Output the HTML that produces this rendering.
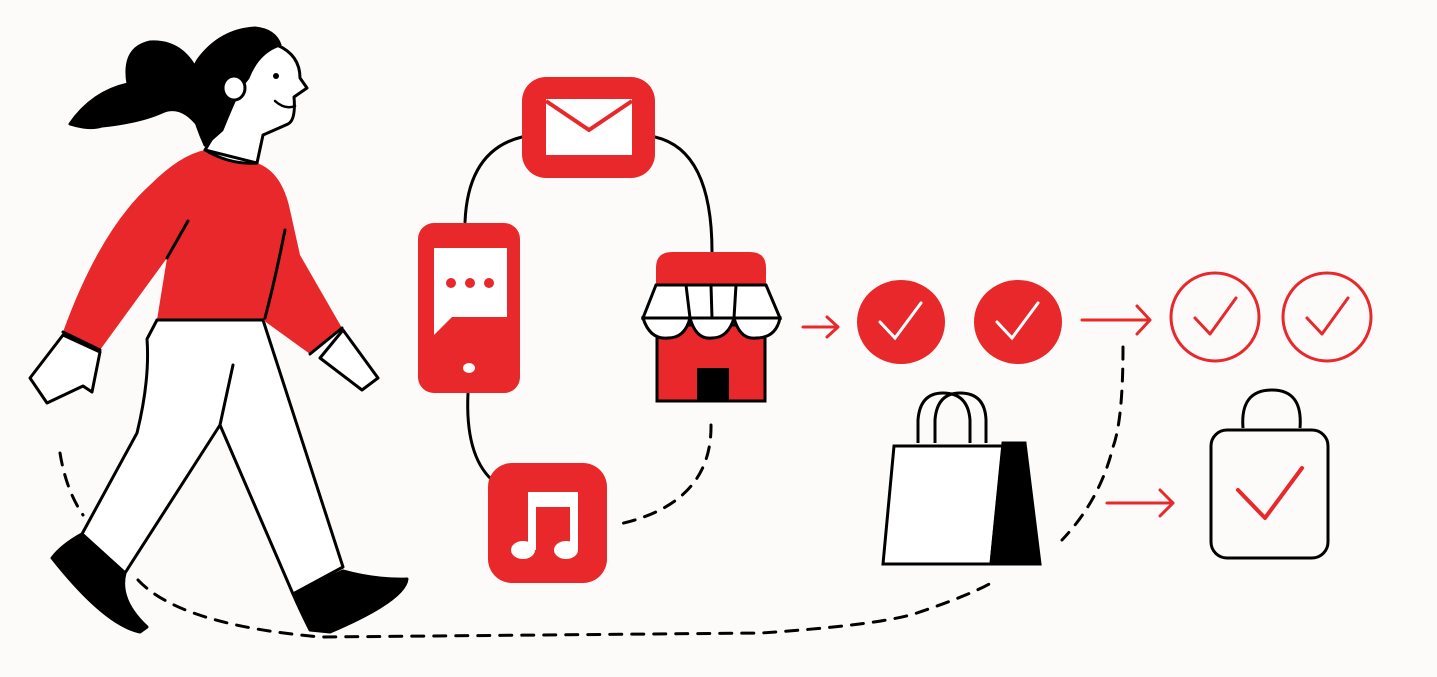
<!DOCTYPE html>
<html><head><meta charset="utf-8"><style>html,body{margin:0;padding:0;background:#fcfbf9;}svg{display:block}</style></head>
<body>
<svg width="1437" height="677" viewBox="0 0 1437 677" xmlns="http://www.w3.org/2000/svg">
<rect width="1437" height="677" fill="#fcfbf9"/>
<g fill="none" stroke="#000" stroke-width="3" stroke-linecap="round">
 <path d="M60,453 Q66,490 83,515" stroke-dasharray="12,10"/>
 <path d="M138,580 Q180,625 321,637 L761,633 Q880,625 917,613 Q970,595 991,583" stroke-dasharray="12,10"/>
 <path d="M1123,347 Q1123,420 1113,447 Q1100,500 1062,540" stroke-dasharray="12,10"/>
 <path d="M711,425 Q712,505 615,525" stroke-dasharray="12,10"/>
 <path d="M522,137 Q468,150 465,222"/>
 <path d="M655,137 Q712,150 712,252"/>
 <path d="M468,393 Q465,455 492,480"/>
</g>
<g stroke="#000" stroke-width="3" stroke-linejoin="round" stroke-linecap="round">
 <path d="M200,78 Q185,40 150,42 Q122,48 128,84 Q92,92 70,124 Q90,130 102,126 Q140,122 162,112 Q182,103 200,128 Z" fill="#000"/>
 <path d="M157,320 L263,320 L343,567 L293,594 L220,425 L125,573 L82,534 L137,433 Q150,380 147,339 Z" fill="#fff"/>
 <path d="M233,365 L220,425" fill="none"/>
 <path d="M82,534 L125,573 Q118,600 147,627 L140,632 Q105,625 52,558 Q62,545 82,534 Z" fill="#000"/>
 <path d="M293,594 L343,571 Q375,580 407,579 Q405,600 330,632 L310,630 Q300,610 293,594 Z" fill="#000"/>
 <path d="M63,335 L30,378 L47,403 L83,386 L92,392 L100,352 Z" fill="#fff"/>
 <path d="M343,330 L378,378 L362,390 L320,358 Z" fill="#fff"/>
 <path d="M277,45 Q300,55 300,78 L307,88 L294,97 Q296,120 288,124 Q270,132 263,135 L257,163 L205,150 L217,130 Q200,60 277,45 Z" fill="#fff"/>
 <path d="M205,145 Q180,90 198,60 Q220,30 255,28 Q275,30 280,45 Q258,52 248,78 L240,88 Q230,110 222,130 Z" fill="#000"/>
 <ellipse cx="234" cy="88" rx="11" ry="12" fill="#fff"/>
 <path d="M205,150 Q230,165 257,163 Q282,172 290,210 L300,255 L342,328 L310,354 L263,320 L157,320 L167,258 L100,350 L63,332 Q100,230 150,185 Q180,155 205,150 Z" fill="#e8282a" stroke="none"/>
 <path d="M205,150 Q230,165 257,163" fill="none"/>
 <path d="M157,320 L263,320" fill="none"/>
 <path d="M188,221 L167,258" fill="none"/>
 <path d="M285,230 Q275,280 265,318" fill="none"/>
 <path d="M63,332 L100,350" fill="none"/>
 <path d="M342,328 L310,354" fill="none"/>
 <path d="M275,101 Q285,110 295,106" fill="none" stroke-width="2.5"/>
</g>
<circle cx="276" cy="76" r="3" fill="#000"/>
<rect x="522" y="77" width="133" height="101" rx="24" fill="#e8282a"/>
<rect x="546" y="99" width="86" height="56" fill="#fff"/>
<path d="M546,101 L589,130 L632,101" fill="none" stroke="#e8282a" stroke-width="4"/>
<rect x="418" y="223" width="102" height="170" rx="16" fill="#e8282a"/>
<path d="M434,248 L507,248 L507,317 L452,317 L434,335 Z" fill="#fff"/>
<circle cx="451" cy="283" r="5" fill="#e8282a"/><circle cx="470" cy="283" r="5" fill="#e8282a"/><circle cx="489" cy="283" r="5" fill="#e8282a"/>
<ellipse cx="469" cy="368" rx="6" ry="5" fill="#fff"/>
<path d="M656,285 L656,268 Q656,252 672,252 L750,252 Q766,252 766,268 L766,285 Z" fill="#e8282a"/>
<rect x="657" y="325" width="108" height="76" fill="#e8282a" stroke="#000" stroke-width="3"/>
<rect x="697" y="368" width="32" height="33" fill="#000"/>
<g stroke="#000" stroke-width="3" fill="#fff">
 <path d="M656,285 L766,285 L780,318 L643,318 Z"/>
 <path d="M643,318 Q650,340 668,338 Q685,338 690,318 Q696,340 712,338 Q728,338 734,318 Q740,340 756,338 Q776,338 780,318 Z" />
 <path d="M686,285 L690,318 M711,285 L712,318 M736,285 L734,318" fill="none"/>
</g>
<rect x="488" y="463" width="119" height="120" rx="24" fill="#e8282a"/>
<path d="M528,492 L578,492 L578,550 L570,550 L570,507 L536,507 L536,550 L528,550 Z" fill="#fff"/>
<ellipse cx="523" cy="550" rx="12" ry="9" fill="#fff"/><ellipse cx="566" cy="550" rx="12" ry="9" fill="#fff"/>
<g fill="none" stroke="#e8282a" stroke-width="3" stroke-linecap="round" stroke-linejoin="round">
 <path d="M803,327 L838,327 M827,317 L838,327 L827,337"/>
 <path d="M1082,320 L1150,320 M1137,306 L1150,320 L1137,334"/>
 <path d="M1107,503 L1173,503 M1160,490 L1173,503 L1160,516"/>
 <circle cx="1215" cy="317" r="44"/>
 <circle cx="1327" cy="317" r="44"/>
 <path d="M1195,318 L1210,334 L1236,298"/>
 <path d="M1307,318 L1322,334 L1348,298"/>
</g>
<ellipse cx="901" cy="322" rx="44" ry="42" fill="#e8282a"/>
<ellipse cx="1018" cy="322" rx="44" ry="42" fill="#e8282a"/>
<path d="M880,322 L895,338 L921,303 M997,322 L1012,338 L1038,303" fill="none" stroke="#fff" stroke-width="3" stroke-linecap="round"/>
<g stroke="#000" stroke-width="3" fill="none">
 <path d="M918,443 L918,420 Q920,393 943,393 Q968,393 970,420 L970,443"/>
 <path d="M935,443 L935,420 Q937,393 960,393 Q985,393 986,420 L986,443"/>
 <path d="M894,446 L1003,446 L991,564 L883,564 Z" fill="#fff"/>
 <path d="M1003,443 L1025,443 L1040,564 L991,564 Z" fill="#000"/>
</g>
<g stroke="#000" stroke-width="3" fill="none">
 <path d="M1243,428 Q1240,390 1272,390 Q1303,390 1300,428"/>
 <rect x="1211" y="430" width="117" height="128" rx="16" fill="#fcfbf9"/>
</g>
<path d="M1238,490 L1265,518 L1302,468" fill="none" stroke="#e8282a" stroke-width="4" stroke-linecap="round" stroke-linejoin="round"/>
</svg>
</body></html>
